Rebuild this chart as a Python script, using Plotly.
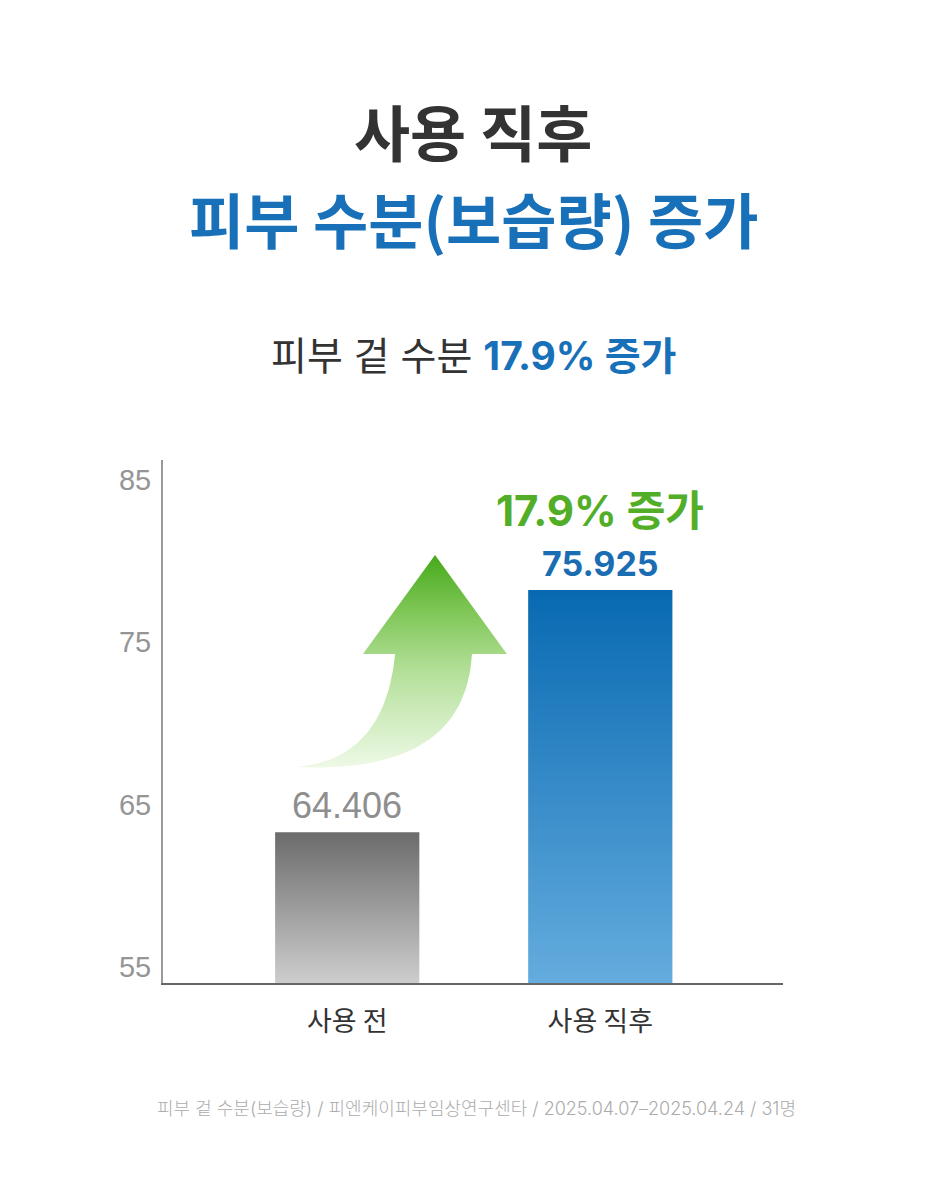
import numpy as np
import plotly.graph_objects as go

# ---------------- data ----------------
categories = ["사용 전", "사용 직후"]
bar_heights = [63.3, 78.2]          # heights as drawn in the picture
value_labels = ["64.406", "75.925"]
increase_label = "17.9% 증가"
y_ticks = [55, 65, 75, 85]

title_1 = "사용 직후"
title_2 = "피부 수분(보습량) 증가"
subtitle_plain = "피부 겉 수분 "
subtitle_bold = "17.9% 증가"
footer = "피부 겉 수분(보습량) / 피엔케이피부임상연구센타 / 2025.04.07–2025.04.24 / 31명"

# ---------------- style ----------------
FONT = "Inter, 'Noto Sans CJK KR', sans-serif"
KFONT = "'Noto Sans CJK KR', sans-serif"
AFONT = "'Liberation Sans', Arial, 'Noto Sans CJK KR', sans-serif"
X_RANGE = [-0.728, 1.722]
Y_RANGE = [54.02, 86.2]
BAR_W = 0.57
bar_scales = [
    [[0, "#cdcdcd"], [1, "#6b6b6b"]],
    [[0, "#64acde"], [1, "#0869b1"]],
]
label_colors = ["#8e8e8e", "#1a6db3"]
label_fonts = [AFONT, FONT]
label_sizes = [36, 34]
label_weights = [400, 700]
BLUE = "#1870b8"
GREEN = "#52ad27"

x_pos = list(range(len(categories)))

fig = go.Figure()

# bars with vertical gradient
for i, (x, h) in enumerate(zip(x_pos, bar_heights)):
    xs = [x - BAR_W / 2, x + BAR_W / 2, x + BAR_W / 2, x - BAR_W / 2, x - BAR_W / 2]
    ys = [Y_RANGE[0], Y_RANGE[0], h, h, Y_RANGE[0]]
    fig.add_trace(go.Scatter(
        x=xs, y=ys, mode="lines", fill="toself",
        line=dict(width=0, color="rgba(0,0,0,0)"),
        fillgradient=dict(type="vertical", colorscale=bar_scales[i]),
        hoverinfo="skip", showlegend=False,
    ))

# decorative curved arrow (data-unit geometry)
def qbez(p0, p1, p2, n=50):
    t = np.linspace(0, 1, n)[:, None]
    p0, p1, p2 = map(np.array, (p0, p1, p2))
    return (1 - t) ** 2 * p0 + 2 * (1 - t) * t * p1 + t ** 2 * p2

tip = (0.347, 80.35)
head_l = (0.062, 74.26)
head_r = (0.631, 74.26)
shaft_l = (0.189, 74.26)
shaft_r = (0.493, 74.26)
bottom = (-0.205, 67.31)
ctrl_r = (0.466, 66.82)
ctrl_l = (0.149, 67.74)

pts = [np.array([tip, head_r, shaft_r])]
pts.append(qbez(shaft_r, ctrl_r, bottom)[1:])
pts.append(qbez(bottom, ctrl_l, shaft_l)[1:])
pts.append(np.array([head_l, tip]))
arrow = np.vstack(pts)
fig.add_trace(go.Scatter(
    x=arrow[:, 0], y=arrow[:, 1], mode="lines", fill="toself",
    line=dict(width=0, color="rgba(0,0,0,0)"),
    fillgradient=dict(type="vertical",
                      colorscale=[[0, "#eef9e6"], [0.45, "#b4e09a"], [0.75, "#7cc553"], [1, "#46a91b"]]),
    hoverinfo="skip", showlegend=False,
))

annotations = []
# value labels
for i, (x, h) in enumerate(zip(x_pos, bar_heights)):
    annotations.append(dict(
        x=x, y=h, xref="x", yref="y", text=value_labels[i], showarrow=False,
        yanchor="middle", yshift=27,
        font=dict(family=label_fonts[i], size=label_sizes[i], color=label_colors[i],
                  weight=label_weights[i]),
    ))
annotations.append(dict(
    x=x_pos[-1], y=bar_heights[-1], xref="x", yref="y", text=increase_label, showarrow=False,
    yanchor="middle", yshift=80,
    font=dict(family=FONT, size=42, color=GREEN, weight=700),
))

def py(p):  # pixel row -> paper y
    return (983 - p) / 523

annotations += [
    dict(x=0.5, y=py(130), xref="paper", yref="paper", text=title_1, showarrow=False,
         yanchor="middle", font=dict(family=KFONT, size=61, color="#333333", weight=700)),
    dict(x=0.5, y=py(218), xref="paper", yref="paper", text=title_2, showarrow=False,
         yanchor="middle", font=dict(family=KFONT, size=60, color=BLUE, weight=700)),
    dict(x=0.5, y=py(355), xref="paper", yref="paper",
         text=f"{subtitle_plain}<b><span style='color:{BLUE}'>{subtitle_bold}</span></b>",
         showarrow=False, yanchor="middle",
         font=dict(family=FONT, size=39, color="#333333")),
    dict(x=0.505, y=py(1108), xref="paper", yref="paper", text=footer, showarrow=False,
         yanchor="middle", font=dict(family=FONT, size=18, color="#ababab", weight=300)),
]

fig.update_layout(
    width=949, height=1200,
    margin=dict(l=155, r=174, t=452, b=225),
    paper_bgcolor="white", plot_bgcolor="white",
    showlegend=False,
    annotations=annotations,
    xaxis=dict(range=X_RANGE, tickvals=x_pos, ticktext=categories,
               showgrid=False, zeroline=False, showline=True, linecolor="#666666", linewidth=1.5,
               ticks="outside", ticklen=14, tickcolor="rgba(0,0,0,0)",
               tickfont=dict(family=KFONT, size=27, color="#333333"), fixedrange=True),
    yaxis=dict(range=Y_RANGE, tickvals=y_ticks, ticktext=[str(v) for v in y_ticks],
               showgrid=False, zeroline=False, showline=True, linecolor="#999999", linewidth=2,
               ticks="outside", ticklen=4, tickcolor="rgba(0,0,0,0)",
               tickfont=dict(family=AFONT, size=29, color="#959595"), fixedrange=True),
)

fig.write_html("out.html")
